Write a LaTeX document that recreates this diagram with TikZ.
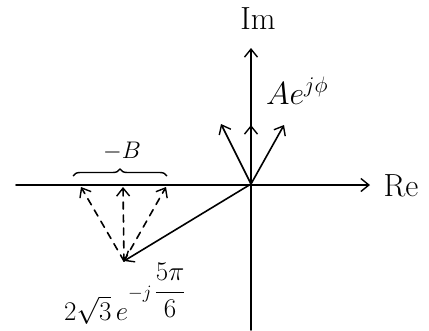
\RequirePackage{fix-cm}
\documentclass[tikz,border=0pt]{standalone}
\usetikzlibrary{arrows.meta,decorations.pathreplacing}
\begin{document}
\begin{tikzpicture}[x=1pt,y=-1pt,
  ln/.style={line width=1.6pt,line cap=round},
  vec/.style={ln,-{Straight Barb[length=8pt,width=13pt,line width=1.4pt]}},
  dvec/.style={vec,dashed,dash pattern=on 7pt off 6pt},
  lbl/.style={inner sep=0pt,font=\fontsize{32}{36}\selectfont}]
\useasboundingbox (0,0) rectangle (429,330);
\coordinate (O) at (251,184);
\coordinate (xl) at (16,185);
\coordinate (xr) at (370,185);
\coordinate (yt) at (251,48);
\coordinate (yb) at (251,330);
\coordinate (t1) at (221,124);
\coordinate (t2) at (251,125);
\coordinate (t3) at (284,125);
\coordinate (P) at (124,261);
\coordinate (d1) at (81,187);
\coordinate (d2) at (123,187);
\coordinate (d3) at (166,187);
\coordinate (b1) at (73,176);
\coordinate (b2) at (167,176);
\draw[vec] (xl) -- (xr);
\draw[ln] (O) -- (yb);
\draw[vec] (O) -- (yt);
\draw[vec] (O) -- (t1);
\draw[vec] (O) -- (t2);
\draw[vec] (O) -- (t3);
\draw[vec] (O) -- (P);
\draw[dvec] (P) -- (d1);
\draw[dvec] (P) -- (d2);
\draw[dvec] (P) -- (d3);
\draw[line width=1.4pt,decorate,decoration={brace,amplitude=7pt}] (b1) -- (b2);
\node[lbl] (im) at (258,19) {Im};
\node[lbl] (re) at (401,186) {Re};
\node[lbl,font=\fontsize{24}{28}\selectfont] (mb) at (122,151) {$-B$};
\node[lbl,anchor=base west] (ae) at (266,104) {$Ae^{j\phi}$};
\node[lbl,anchor=base west,font=\fontsize{27}{31}\selectfont] (lb) at (64,320) {$2\sqrt{3}\,e^{-j\,\displaystyle\frac{5\pi}{6}}$};
\end{tikzpicture}
\end{document}
